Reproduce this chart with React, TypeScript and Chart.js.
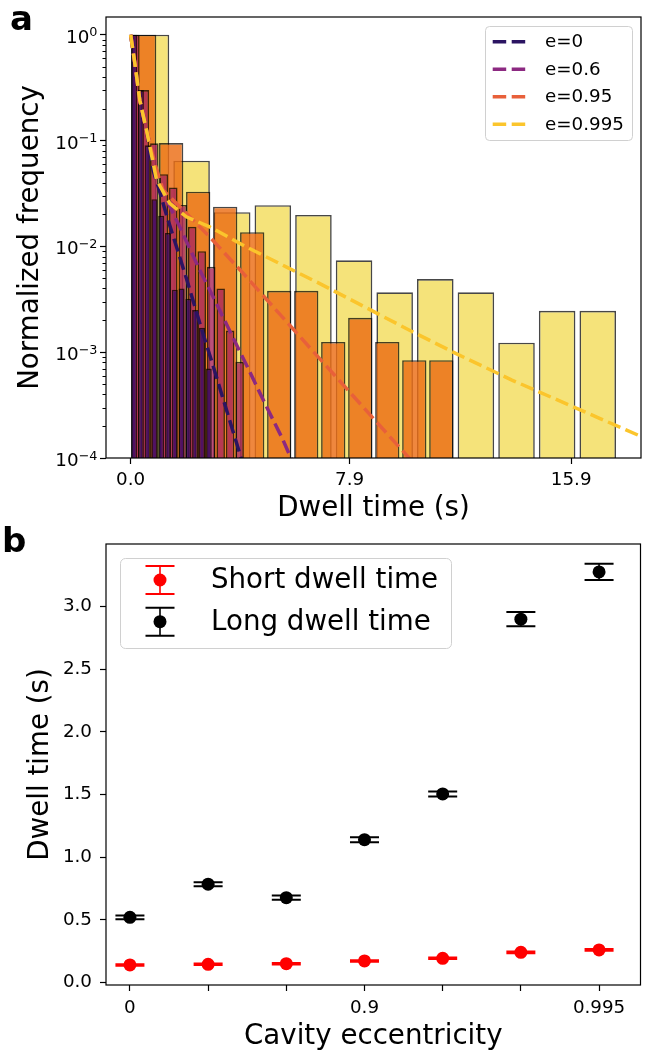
import React, { useEffect, useRef } from 'react';
import { Chart, registerables } from 'chart.js';

Chart.register(...registerables);

const FONT = "'DejaVu Sans', sans-serif";

// ---------------- Panel a : dwell-time histograms ----------------
const seriesLabels = ['e=0', 'e=0.6', 'e=0.95', 'e=0.995'];

const binCentersE0 = [0.1225, 0.3675, 0.6125, 0.8575, 1.1025, 1.3475, 1.5925, 1.8375, 2.0825, 2.3275, 2.5725, 2.8175];
const freqE0 = [1.0, 0.3, 0.09, 0.0279, 0.0195, 0.0134, 0.0039, 0.004, 0.0032, 0.0025, 0.0017, 0.0007];

const binCentersE06 = [0.171, 0.513, 0.855, 1.197, 1.539, 1.881, 2.223, 2.565, 2.907, 3.249, 3.591, 3.933];
const freqE06 = [1.0, 0.3, 0.094, 0.048, 0.036, 0.0246, 0.0153, 0.009, 0.0064, 0.004, 0.0016, 0.00081];

const binCentersE095 = [0.4875, 1.4625, 2.4375, 3.4125, 4.3875, 5.3625, 6.3375, 7.3125, 8.2875, 9.2625, 10.2375, 11.2125];
const freqE095 = [1.0, 0.0946, 0.0328, 0.0237, 0.0136, 0.0038, 0.0038, 0.00125, 0.00211, 0.00125, 0.00084, 0.00084];

const binCentersE0995 = [0.733, 2.199, 3.665, 5.131, 6.597, 8.063, 9.529, 10.995, 12.461, 13.927, 15.393, 16.859];
const freqE0995 = [1.0, 0.0644, 0.021, 0.0245, 0.0198, 0.00738, 0.00368, 0.00491, 0.00368, 0.00123, 0.00246, 0.00246];

const fitXE0 = [0, 0.15, 0.33, 0.57, 0.81, 0.99, 1.3, 1.66, 2.01, 2.49, 2.97, 3.69, 4.1];
const fitYE0 = [1.0, 0.54, 0.24, 0.126, 0.0526, 0.037, 0.0195, 0.0098, 0.005, 0.0019, 0.00075, 0.00018, 0.00008];

const fitXE06 = [0, 0.15, 0.33, 0.57, 0.87, 1.0, 1.3, 1.77, 2.49, 3.09, 3.69, 4.29, 4.89, 5.49, 5.9];
const fitYE06 = [1.0, 0.54, 0.24, 0.126, 0.06, 0.045, 0.0274, 0.0153, 0.006, 0.0029, 0.00138, 0.00066, 0.00031, 0.00015, 0.000085];

const fitXE095 = [0, 0.15, 0.33, 0.57, 0.87, 1.17, 2.01, 2.85, 4.05, 5.25, 6.57, 7.53, 8.8, 10.05, 10.4];
const fitYE095 = [1.0, 0.54, 0.24, 0.126, 0.061, 0.034, 0.0205, 0.0123, 0.0056, 0.0025, 0.00103, 0.00054, 0.00023, 0.0001, 0.00008];

const fitXE0995 = [0, 0.15, 0.33, 0.57, 0.935, 1.41, 2.01, 2.85, 4.17, 5.61, 6.81, 10.17, 11.73, 13.76, 18.42];
const fitYE0995 = [1.0, 0.54, 0.24, 0.126, 0.0424, 0.0255, 0.019, 0.0153, 0.0099, 0.0064, 0.00447, 0.00156, 0.000975, 0.000545, 0.00016];

const xTickValuesA = [0, 7.9, 15.9];
const xTickLabelsA = ['0.0', '7.9', '15.9'];
const yDecadesA = [-4, -3, -2, -1, 0];

// ---------------- Panel b : dwell times vs eccentricity ----------------
const eccPositions = [0, 1, 2, 3, 4, 5, 6];
const eccLabels = ['0', '', '', '0.9', '', '', '0.995'];
const shortDwell = [0.14, 0.145, 0.15, 0.172, 0.193, 0.241, 0.26];
const shortErr = [0.006, 0.006, 0.006, 0.006, 0.006, 0.007, 0.007];
const longDwell = [0.52, 0.785, 0.677, 1.14, 1.505, 2.9, 3.277];
const longErr = [0.015, 0.016, 0.017, 0.02, 0.02, 0.057, 0.065];
const yTicksB = [0, 0.5, 1.0, 1.5, 2.0, 2.5, 3.0];
const legendLabelsB = ['Short dwell time', 'Long dwell time'];

const barFill = ['rgba(62,12,102,0.85)', 'rgba(172,42,92,0.82)', 'rgba(236,108,20,0.82)', 'rgba(243,220,89,0.8)'];
const lineColors = ['#2b1462', '#8c2981', '#e8603a', '#fbc52c'];
const DASH = [13.5, 5.5];

function roundRectPath(ctx: CanvasRenderingContext2D, x: number, y: number, w: number, h: number, r: number) {
  ctx.beginPath();
  ctx.moveTo(x + r, y);
  ctx.lineTo(x + w - r, y);
  ctx.arcTo(x + w, y, x + w, y + r, r);
  ctx.lineTo(x + w, y + h - r);
  ctx.arcTo(x + w, y + h, x + w - r, y + h, r);
  ctx.lineTo(x + r, y + h);
  ctx.arcTo(x, y + h, x, y + h - r, r);
  ctx.lineTo(x, y + r);
  ctx.arcTo(x, y, x + r, y, r);
  ctx.closePath();
}

function PanelA() {
  const ref = useRef<HTMLCanvasElement>(null);
  useEffect(() => {
    const canvas = ref.current!;
    const xMin = -0.89;
    const xMax = 18.42;
    const bars = [
      { c: binCentersE0, v: freqE0 },
      { c: binCentersE06, v: freqE06 },
      { c: binCentersE095, v: freqE095 },
      { c: binCentersE0995, v: freqE0995 },
    ];
    const fits = [
      { x: fitXE0, y: fitYE0 },
      { x: fitXE06, y: fitYE06 },
      { x: fitXE095, y: fitYE095 },
      { x: fitXE0995, y: fitYE0995 },
    ];
    const datasets: any[] = [];
    bars.forEach((b, i) => {
      datasets.push({
        type: 'bar',
        label: seriesLabels[i] + ' hist',
        data: b.c.map((x, k) => ({ x, y: b.v[k] })),
        xAxisID: 'xb' + i,
        yAxisID: 'y',
        backgroundColor: barFill[i],
        borderColor: 'rgba(0,0,0,0.72)',
        borderWidth: 1.6,
        grouped: false,
        categoryPercentage: 1,
        barPercentage: 0.9,
        order: 4 + i,
      });
    });
    fits.forEach((f, i) => {
      datasets.push({
        type: 'line',
        label: seriesLabels[i],
        data: f.x.map((x, k) => ({ x, y: f.y[k] })),
        xAxisID: 'x',
        yAxisID: 'y',
        borderColor: lineColors[i],
        borderWidth: 3.5,
        borderDash: DASH,
        pointRadius: 0,
        fill: false,
        tension: 0,
        order: 3 - i,
      });
    });

    const hidden = () => ({
      type: 'linear',
      axis: 'x',
      display: false,
      min: xMin,
      max: xMax,
      offset: false,
      grid: { offset: false },
      afterBuildTicks: (s: any) => {
        s.ticks = [{ value: xMin }];
      },
    });

    const decor = {
      id: 'decorA',
      afterDraw(chart: any) {
        const { ctx, chartArea: ca, scales } = chart;
        const y = scales.y;
        ctx.save();
        ctx.strokeStyle = '#000';
        ctx.lineWidth = 1.2;
        ctx.setLineDash([]);
        ctx.strokeRect(ca.left, ca.top, ca.right - ca.left, ca.bottom - ca.top);
        ctx.lineWidth = 1;
        for (let e = -4; e < 1; e++) {
          for (let m = 2; m <= 9; m++) {
            const v = m * Math.pow(10, e);
            if (v > y.max) continue;
            const py = Math.round(y.getPixelForValue(v)) + 0.5;
            ctx.beginPath();
            ctx.moveTo(ca.left - 3.5, py);
            ctx.lineTo(ca.left, py);
            ctx.stroke();
          }
        }
        ctx.fillStyle = '#000';
        ctx.textAlign = 'left';
        ctx.textBaseline = 'alphabetic';
        for (const e of yDecadesA) {
          const py = y.getPixelForValue(Math.pow(10, e));
          const exp = e === 0 ? '0' : '\u2212' + Math.abs(e);
          ctx.font = `12.8px ${FONT}`;
          const we = ctx.measureText(exp).width;
          ctx.font = `18.3px ${FONT}`;
          const wb = ctx.measureText('10').width;
          const right = 97.5;
          ctx.fillText('10', right - we - wb, py + 8);
          ctx.font = `12.8px ${FONT}`;
          ctx.fillText(exp, right - we, py + 1.5);
        }
        roundRectPath(ctx, 485.5, 26.5, 147, 114, 4);
        ctx.fillStyle = 'rgba(255,255,255,0.8)';
        ctx.fill();
        ctx.strokeStyle = '#d0d0d0';
        ctx.lineWidth = 1;
        ctx.stroke();
        const rows = [41.7, 69.3, 96.7, 124.3];
        rows.forEach((ry, i) => {
          ctx.strokeStyle = lineColors[i];
          ctx.lineWidth = 3.5;
          ctx.setLineDash(DASH);
          ctx.beginPath();
          ctx.moveTo(492.7, ry);
          ctx.lineTo(526.7, ry);
          ctx.stroke();
          ctx.setLineDash([]);
          ctx.fillStyle = '#000';
          ctx.font = `18.3px ${FONT}`;
          ctx.textBaseline = 'middle';
          ctx.fillText(seriesLabels[i], 545, ry + 1);
        });
        ctx.textBaseline = 'alphabetic';
        ctx.font = `bold 34px ${FONT}`;
        ctx.fillText('a', 10, 30);
        ctx.restore();
      },
    };

    const chart = new Chart(canvas, {
      type: 'bar',
      data: { datasets },
      options: {
        animation: false,
        responsive: false,
        devicePixelRatio: 1,
        layout: { padding: { left: 0, right: 6, top: 17, bottom: 0 } },
        plugins: { legend: { display: false }, tooltip: { enabled: false } },
        scales: {
          x: {
            type: 'linear',
            position: 'bottom',
            min: xMin,
            max: xMax,
            offset: false,
            border: { display: false },
            grid: { drawOnChartArea: false, drawTicks: true, tickLength: 6, color: '#000', tickColor: '#000', tickWidth: 1.2, offset: false },
            ticks: {
              color: '#000',
              font: { family: FONT, size: 18.3 },
              padding: 5,
              autoSkip: false,
              maxRotation: 0,
              callback: (v: any) => {
                const k = xTickValuesA.indexOf(Number(v));
                return k >= 0 ? xTickLabelsA[k] : '';
              },
            },
            afterBuildTicks: (s: any) => {
              s.ticks = xTickValuesA.map((v) => ({ value: v }));
            },
            afterFit: (s: any) => {
              s.height = 67;
            },
            title: {
              display: true,
              text: 'Dwell time (s)',
              color: '#000',
              font: { family: FONT, size: 27.7 },
              padding: { top: 0, bottom: 0 },
            },
          },
          xb0: hidden(),
          xb1: hidden(),
          xb2: hidden(),
          xb3: hidden(),
          y: {
            type: 'logarithmic',
            min: 1e-4,
            max: 1.47,
            border: { display: false },
            grid: { drawOnChartArea: false, drawTicks: true, tickLength: 6, color: '#000', tickColor: '#000', tickWidth: 1.2 },
            ticks: { display: false },
            afterBuildTicks: (s: any) => {
              s.ticks = yDecadesA.map((e) => ({ value: Math.pow(10, e), major: true }));
            },
            afterFit: (s: any) => {
              s.width = 106;
            },
            title: {
              display: true,
              text: 'Normalized frequency',
              color: '#000',
              font: { family: FONT, size: 27.7 },
              padding: { top: 14.4, bottom: 0 },
            },
          },
        } as any,
      },
      plugins: [decor],
    } as any);
    return () => chart.destroy();
  }, []);
  return <canvas ref={ref} width={647} height={525} style={{ position: 'absolute', left: 0, top: 0 }} />;
}

function PanelB() {
  const ref = useRef<HTMLCanvasElement>(null);
  useEffect(() => {
    const canvas = ref.current!;
    const colors = ['#ff0000', '#000000'];
    const vals = [shortDwell, longDwell];
    const errs = [shortErr, longErr];
    const CAP = 14.5;

    const drawErrSymbol = (ctx: CanvasRenderingContext2D, cx: number, y1: number, y2: number, color: string) => {
      ctx.strokeStyle = color;
      ctx.lineWidth = 1.6;
      ctx.beginPath();
      ctx.moveTo(cx, y1);
      ctx.lineTo(cx, y2);
      ctx.stroke();
      ctx.lineWidth = 2;
      ctx.beginPath();
      ctx.moveTo(cx - CAP, y1);
      ctx.lineTo(cx + CAP, y1);
      ctx.moveTo(cx - CAP, y2);
      ctx.lineTo(cx + CAP, y2);
      ctx.stroke();
    };

    const decor = {
      id: 'decorB',
      beforeDatasetsDraw(chart: any) {
        const { ctx, scales } = chart;
        ctx.save();
        vals.forEach((vs, s) => {
          vs.forEach((v, i) => {
            const px = scales.x.getPixelForValue(eccPositions[i]);
            const y1 = scales.y.getPixelForValue(v + errs[s][i]);
            const y2 = scales.y.getPixelForValue(v - errs[s][i]);
            drawErrSymbol(ctx, px, y1, y2, colors[s]);
          });
        });
        ctx.restore();
      },
      afterDraw(chart: any) {
        const { ctx, chartArea: ca } = chart;
        ctx.save();
        ctx.strokeStyle = '#000';
        ctx.lineWidth = 1.2;
        ctx.strokeRect(ca.left, ca.top, ca.right - ca.left, ca.bottom - ca.top);
        roundRectPath(ctx, 120.5, 33.5, 331, 90, 5);
        ctx.fillStyle = 'rgba(255,255,255,0.8)';
        ctx.fill();
        ctx.strokeStyle = '#d0d0d0';
        ctx.lineWidth = 1;
        ctx.stroke();
        const rows = [55, 96.7];
        rows.forEach((ry, i) => {
          drawErrSymbol(ctx, 160, ry - 14, ry + 14, colors[i]);
          ctx.fillStyle = colors[i];
          ctx.beginPath();
          ctx.arc(160, ry, 6.5, 0, Math.PI * 2);
          ctx.fill();
          ctx.fillStyle = '#000';
          ctx.font = `27.7px ${FONT}`;
          ctx.textBaseline = 'middle';
          ctx.textAlign = 'left';
          ctx.fillText(legendLabelsB[i], 211, ry + 1);
        });
        ctx.textBaseline = 'alphabetic';
        ctx.font = `bold 34px ${FONT}`;
        ctx.fillText('b', 2, 26.7);
        ctx.restore();
      },
    };

    const chart = new Chart(canvas, {
      type: 'scatter',
      data: {
        datasets: vals.map((vs, s) => ({
          label: legendLabelsB[s],
          data: eccPositions.map((x, i) => ({ x, y: vs[i] })),
          backgroundColor: colors[s],
          borderColor: colors[s],
          borderWidth: 0,
          pointRadius: 6.5,
          pointHoverRadius: 6.5,
        })),
      },
      options: {
        animation: false,
        responsive: false,
        devicePixelRatio: 1,
        layout: { padding: { left: 0, right: 4.7, top: 19, bottom: 0 } },
        plugins: { legend: { display: false }, tooltip: { enabled: false } },
        scales: {
          x: {
            type: 'linear',
            min: -0.306,
            max: 6.53,
            border: { display: false },
            grid: { drawOnChartArea: false, drawTicks: true, tickLength: 6, color: '#000', tickColor: '#000', tickWidth: 1.2 },
            ticks: {
              color: '#000',
              font: { family: FONT, size: 18.3 },
              padding: 6,
              autoSkip: false,
              maxRotation: 0,
              callback: (v: any) => {
                const k = eccPositions.indexOf(Number(v));
                return k >= 0 ? eccLabels[k] : '';
              },
            },
            afterBuildTicks: (s: any) => {
              s.ticks = eccPositions.map((v) => ({ value: v }));
            },
            afterFit: (s: any) => {
              s.height = 100;
            },
            title: {
              display: true,
              text: 'Cavity eccentricity',
              color: '#000',
              font: { family: FONT, size: 27.7 },
              padding: { top: 0, bottom: 32 },
            },
          },
          y: {
            type: 'linear',
            min: -0.02,
            max: 3.5,
            border: { display: false },
            grid: { drawOnChartArea: false, drawTicks: true, tickLength: 6, color: '#000', tickColor: '#000', tickWidth: 1.2 },
            ticks: {
              color: '#000',
              font: { family: FONT, size: 18.3 },
              padding: 8,
              callback: (v: any) => Number(v).toFixed(1),
            },
            afterBuildTicks: (s: any) => {
              s.ticks = yTicksB.map((v) => ({ value: v }));
            },
            afterFit: (s: any) => {
              s.width = 106;
            },
            title: {
              display: true,
              text: 'Dwell time (s)',
              color: '#000',
              font: { family: FONT, size: 27.7 },
              padding: { top: 24.4, bottom: 0 },
            },
          },
        } as any,
      },
      plugins: [decor],
    } as any);
    return () => chart.destroy();
  }, []);
  return <canvas ref={ref} width={647} height={560} style={{ position: 'absolute', left: 0, top: 525 }} />;
}

export default function App() {
  return (
    <div style={{ position: 'absolute', left: 0, top: 0, width: 647, height: 1050, overflow: 'hidden', background: '#fff' }}>
      <PanelA />
      <PanelB />
    </div>
  );
}
